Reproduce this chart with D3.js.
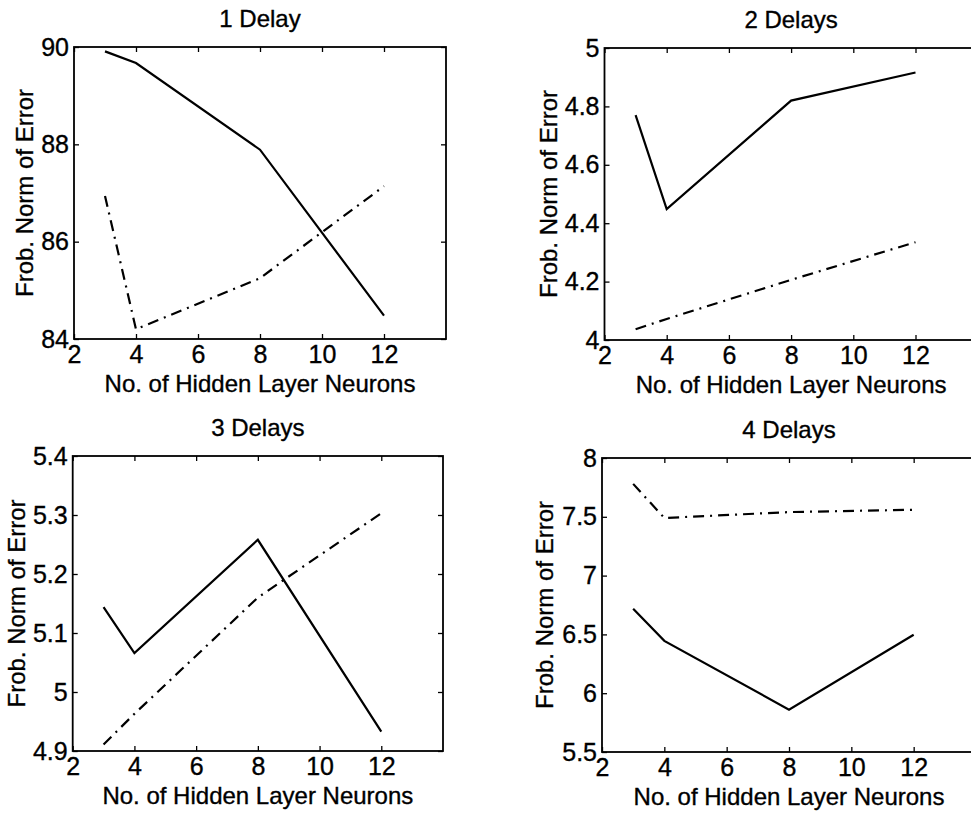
<!DOCTYPE html>
<html><head><meta charset="utf-8">
<script src="https://cdn.jsdelivr.net/npm/d3@7"></script>
<style>
body{margin:0;background:#fff}
svg{display:block}
text{font-family:"Liberation Sans",Arial,Helvetica,sans-serif;fill:#000;stroke:#000;stroke-width:0.35px}
</style>
</head><body><svg id="c" width="971" height="813"></svg>
<script>
// ---- data ----
const neurons = [3, 4, 8, 12];
const xTicks = [2, 4, 6, 8, 10, 12];
const titles = ["1 Delay", "2 Delays", "3 Delays", "4 Delays"];
const xLabel = "No. of Hidden Layer Neurons";
const yLabel = "Frob. Norm of Error";

const solid1 = [89.91, 89.67, 87.89, 84.48];
const dashDot1 = [86.94, 84.20, 85.25, 87.14];
const solid2 = [4.770, 4.448, 4.820, 4.916];
const dashDot2 = [4.037, 4.072, 4.206, 4.335];
const solid3 = [5.144, 5.066, 5.258, 4.933];
const dashDot3 = [4.911, 4.963, 5.160, 5.303];
const solid4 = [6.719, 6.445, 5.860, 6.497];
const dashDot4 = [7.78, 7.49, 7.54, 7.56];

const yTicks1 = [84, 86, 88, 90];
const yTicks2 = [4, 4.2, 4.4, 4.6, 4.8, 5];
const yTicks3 = [4.9, 5, 5.1, 5.2, 5.3, 5.4];
const yTicks4 = [5.5, 6, 6.5, 7, 7.5, 8];
const xDomain = [2, 14];

// ---- layout ----
const panels = [
  {solid: solid1, dash: dashDot1, ticks: yTicks1, left: 74,    right: 446,   top: 47,  bottom: 339, ylab: 41},
  {solid: solid2, dash: dashDot2, ticks: yTicks2, left: 604.5, right: 977.7, top: 48,  bottom: 340, ylab: 48},
  {solid: solid3, dash: dashDot3, ticks: yTicks3, left: 72.7,  right: 443,   top: 456, bottom: 751, ylab: 48},
  {solid: solid4, dash: dashDot4, ticks: yTicks4, left: 602,   right: 976,   top: 458, bottom: 752, ylab: 49}
];
const FS = 24;
const TFS = 25;
const W = 971;
const svg = d3.select("#c");

panels.forEach((p, i) => {
  const yd = d3.extent(p.ticks);
  const x = d3.scaleLinear().domain(xDomain).range([p.left, p.right]);
  const y = d3.scaleLinear().domain(yd).range([p.bottom, p.top]);
  const g = svg.append("g");

  // lines
  const line = d3.line().x(d => x(d[0])).y(d => y(d[1]));
  g.append("path").datum(d3.zip(neurons, p.solid)).attr("d", line)
    .attr("fill", "none").attr("stroke", "#000").attr("stroke-width", 2.2);
  g.append("path").datum(d3.zip(neurons, p.dash)).attr("d", line)
    .attr("fill", "none").attr("stroke", "#000").attr("stroke-width", 2.2)
    .attr("stroke-dasharray", "11,6,2,6");

  // box
  g.append("rect").attr("x", p.left).attr("y", p.top)
    .attr("width", p.right - p.left).attr("height", p.bottom - p.top)
    .attr("fill", "none").attr("stroke", "#000").attr("stroke-width", 1.8);

  // axes
  g.append("g").attr("transform", `translate(0,${p.bottom})`)
    .call(d3.axisBottom(x).tickValues(xTicks).tickSize(-5).tickSizeOuter(0).tickPadding(6).tickFormat(d3.format("d")));
  g.append("g").attr("transform", `translate(${p.left},0)`)
    .call(d3.axisLeft(y).tickValues(p.ticks).tickSize(-5).tickSizeOuter(0).tickPadding(5).tickFormat(d => String(d)));
  g.append("g").attr("transform", `translate(0,${p.top})`)
    .call(d3.axisTop(x).tickValues(xTicks).tickSize(-5).tickSizeOuter(0).tickFormat(""));
  if (p.right <= W) {
    g.append("g").attr("transform", `translate(${p.right},0)`)
      .call(d3.axisRight(y).tickValues(p.ticks).tickSize(-5).tickSizeOuter(0).tickFormat(""));
  }
  g.selectAll(".domain").remove();
  g.selectAll(".tick line").attr("stroke", "#000").attr("stroke-width", 1.3);
  g.selectAll(".tick text").attr("font-size", TFS).attr("font-family", null).attr("fill", "#000");

  // title
  g.append("text").attr("x", (p.left + p.right) / 2).attr("y", p.top - 20)
    .attr("text-anchor", "middle").attr("font-size", FS).text(titles[i]);
  // x label
  g.append("text").attr("x", (p.left + p.right) / 2).attr("y", p.bottom + 53)
    .attr("text-anchor", "middle").attr("font-size", FS).text(xLabel);
  // y label
  g.append("text").attr("transform", `translate(${p.left - p.ylab},${(p.top + p.bottom) / 2}) rotate(-90)`)
    .attr("text-anchor", "middle").attr("font-size", FS).text(yLabel);
});
</script>
</body></html>
